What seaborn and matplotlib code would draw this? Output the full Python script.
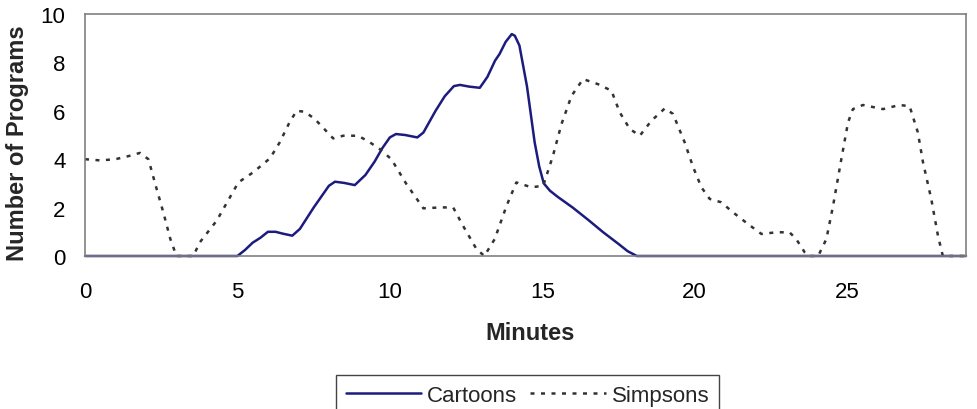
import matplotlib
matplotlib.use("Agg")
import matplotlib.pyplot as plt
import seaborn as sns
import pandas as pd

# ---- data ----
cartoons_min = [0, 0.5, 1, 1.5, 2, 2.5, 3, 3.5, 4, 4.5, 5, 5.25, 5.5, 5.75, 6, 6.25, 6.5, 6.8, 7.05,
                7.5, 8, 8.2, 8.5, 8.85, 9.2, 9.5, 9.75, 10, 10.2, 10.5, 10.9, 11.1, 11.5, 11.8,
                12.1, 12.3, 12.6, 12.95, 13.2, 13.45, 13.6, 13.8, 14, 14.1, 14.25, 14.5, 14.75,
                14.9, 15.05, 15.25, 15.5, 16, 16.5, 17, 17.5, 17.8, 18.1, 19, 20, 21, 22, 23, 24,
                25, 26, 27, 28, 28.9]
cartoons_val = [0, 0, 0, 0, 0, 0, 0, 0, 0, 0, 0, 0.25, 0.55, 0.75, 1.0, 1.0, 0.92, 0.84, 1.12,
                2.0, 2.9, 3.07, 3.02, 2.93, 3.35, 3.9, 4.45, 4.9, 5.04, 5.0, 4.9, 5.1, 6.0, 6.6,
                7.02, 7.07, 7.0, 6.95, 7.4, 8.07, 8.35, 8.85, 9.17, 9.1, 8.7, 7.0, 4.7, 3.7, 3.0,
                2.7, 2.45, 2.0, 1.5, 0.98, 0.5, 0.2, 0, 0, 0, 0, 0, 0, 0, 0, 0, 0, 0, 0]

simpsons_min = [0, 0.5, 1, 1.5, 1.8, 2.08, 2.35, 2.57, 2.8, 3, 3.55, 3.77, 4.32, 5.03, 5.52, 6.07,
                6.39, 6.7, 6.94, 7.21, 7.54, 8.14, 8.47, 8.96, 9.34, 9.67, 10.05, 10.54, 11.1,
                11.7, 12.08, 12.4, 12.84, 13.1, 13.44, 13.83, 14.15, 14.64, 15.03, 15.35, 15.63,
                15.96, 16.34, 16.83, 17.27, 17.54, 17.87, 18.2, 18.58, 19.02, 19.29, 19.67,
                19.95, 20.22, 20.49, 20.87, 21.26, 21.75, 22.19, 22.68, 23.11, 23.33, 23.61,
                23.75, 24.05, 24.32, 24.54, 24.81, 25.03, 25.19, 25.52, 26.18, 26.72, 27.05,
                27.32, 27.49, 27.76, 27.98, 28.14, 28.9]
simpsons_val = [4.0, 3.95, 4.0, 4.15, 4.26, 4.0, 2.77, 1.8, 0.7, 0, 0, 0.57, 1.46, 3.04, 3.46,
                4.04, 4.7, 5.5, 6.0, 5.96, 5.66, 4.86, 4.97, 4.97, 4.7, 4.42, 4.0, 2.98, 1.97,
                2.01, 2.0, 1.25, 0.29, 0, 0.7, 2.08, 3.04, 2.84, 2.9, 4.14, 5.45, 6.62, 7.31,
                7.1, 6.83, 5.94, 5.25, 4.97, 5.59, 6.1, 5.87, 4.7, 3.67, 2.84, 2.36, 2.22, 1.8,
                1.32, 0.91, 0.98, 0.98, 0.7, 0.15, 0, 0, 0.7, 2.08, 4.0, 5.52, 6.07, 6.24, 6.07,
                6.24, 6.19, 5.11, 3.87, 2.36, 0.84, 0, 0]

series_names = ["Cartoons", "Simpsons"]
xticks = [0, 5, 10, 15, 20, 25]
yticks = [0, 2, 4, 6, 8, 10]

df = pd.concat([
    pd.DataFrame({"Minutes": cartoons_min, "Programs": cartoons_val, "Series": series_names[0]}),
    pd.DataFrame({"Minutes": simpsons_min, "Programs": simpsons_val, "Series": series_names[1]}),
], ignore_index=True)

sns.set_style("white")
plt.rcParams["font.family"] = ["Liberation Sans", "DejaVu Sans"]

fig = plt.figure(figsize=(9.77, 4.10), dpi=100)
ax = fig.add_axes([85 / 977, 153 / 410, 881 / 977, 242 / 410])

sns.lineplot(data=df, x="Minutes", y="Programs", hue="Series", style="Series",
             palette={"Cartoons": "#1c1c7e", "Simpsons": "#333333"},
             dashes={"Cartoons": "", "Simpsons": (1.6, 2.6)},
             linewidth=1.8, ax=ax, sort=False, estimator=None)
for ln in ax.get_lines():
    ln.set_clip_on(False)
    ln.set_solid_joinstyle("round")
    ln.set_dash_joinstyle("round")

ax.set_xlim(0, 28.9)
ax.set_ylim(0, 10)
ax.set_xticks(xticks)
ax.set_yticks(yticks)
ax.set_xticklabels([str(t) for t in xticks])
ax.set_yticklabels([str(t) for t in yticks])
ax.tick_params(axis="both", direction="in", length=7, width=1, color="#808080",
               labelsize=16, labelcolor="black")
ax.tick_params(axis="x", pad=18)
ax.tick_params(axis="y", pad=14)
for s in ax.spines.values():
    s.set_color("#808080")
    s.set_linewidth(1.2)

ax.set_xlabel("Minutes", fontsize=17, fontweight="bold")
ax.set_ylabel("Number of Programs", fontsize=17, fontweight="bold")
ax.xaxis.set_label_coords((530 - 85) / 881, (257 - 333) / 242)
ax.xaxis.label.set_verticalalignment("center")
ax.yaxis.set_label_coords((17.5 - 85) / 881, (257 - 143.5) / 242)
ax.yaxis.label.set_verticalalignment("center")

sns.move_legend(ax, "upper center", bbox_to_anchor=((527.5 - 85) / 881, (257 - 376) / 242),
                ncol=2, title=None, frameon=True, fancybox=False, fontsize=16,
                handlelength=3.4, handletextpad=0.25, columnspacing=0.6, borderpad=0.45,
                borderaxespad=0)
leg = ax.get_legend()
leg.get_frame().set_edgecolor("#444444")
leg.get_frame().set_linewidth(1.0)
leg.get_frame().set_alpha(1)

fig.savefig("out.png", dpi=100, facecolor="white")
